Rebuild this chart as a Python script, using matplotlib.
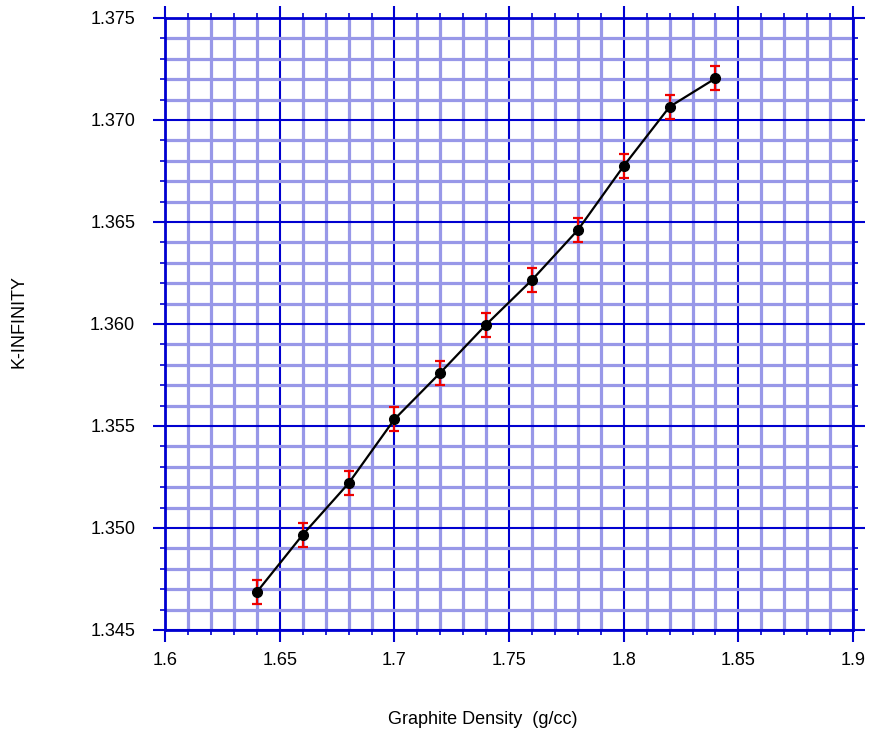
import matplotlib.pyplot as plt
from matplotlib.ticker import MultipleLocator, FormatStrFormatter, FuncFormatter

plt.rcParams['font.family'] = ['Liberation Sans', 'DejaVu Sans']

density = [1.64, 1.66, 1.68, 1.70, 1.72, 1.74, 1.76, 1.78, 1.80, 1.82, 1.84]
k_inf = [1.34686, 1.34967, 1.35219, 1.35533, 1.35761, 1.35997,
         1.36216, 1.36461, 1.36775, 1.37065, 1.37204]
k_err = [0.00059] * len(density)

fig = plt.figure(figsize=(8.69, 7.34), dpi=100)
ax = fig.add_axes([0.19, 0.1417, 0.7917, 0.8338])

major_c = '#0000d0'
minor_c = '#9898e8'

ax.set_xlim(1.6, 1.9)
ax.set_ylim(1.345, 1.375)
ax.xaxis.set_major_locator(MultipleLocator(0.05))
ax.xaxis.set_minor_locator(MultipleLocator(0.01))
ax.yaxis.set_major_locator(MultipleLocator(0.005))
ax.yaxis.set_minor_locator(MultipleLocator(0.001))
ax.xaxis.set_major_formatter(FuncFormatter(lambda v, p: '%g' % round(v, 3)))
ax.yaxis.set_major_formatter(FormatStrFormatter('%.3f'))

ax.grid(which='minor', color=minor_c, linewidth=2.3, zorder=0)
ax.grid(which='major', color=major_c, linewidth=1.5, zorder=1)
ax.set_axisbelow(True)

for s in ax.spines.values():
    s.set_color(major_c)
    s.set_linewidth(2)

ax.tick_params(which='major', direction='out', length=8.5, width=1.5, color=major_c,
               top=True, right=True, labelsize=13)
ax.tick_params(which='minor', direction='out', length=3.5, width=1.2, color=major_c,
               top=True, right=True)
ax.tick_params(axis='x', which='major', pad=7)
ax.tick_params(axis='y', which='major', pad=13)

ax.plot(density, k_inf, color='black', linewidth=1.6, zorder=3)
ax.errorbar(density, k_inf, yerr=k_err, fmt='none', ecolor='#ee0000',
            elinewidth=1.6, capsize=3.6, capthick=1.6, zorder=4)
ax.plot(density, k_inf, 'o', color='black', markersize=7, zorder=5)

fig.text(483 / 869, 1 - 720 / 734, 'Graphite Density  (g/cc)', ha='center', va='center', fontsize=13)
fig.text(19 / 869, 1 - 321 / 734, 'K-INFINITY', ha='center', va='center', rotation=90, fontsize=13)

fig.savefig('out.png', dpi=100)
